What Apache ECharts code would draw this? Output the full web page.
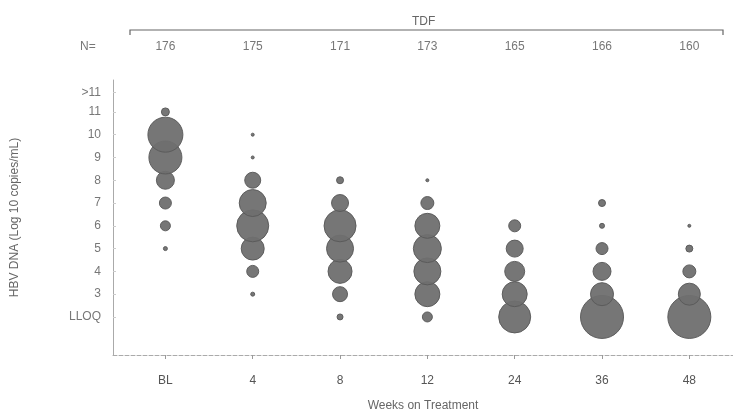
<!DOCTYPE html>
<html>
<head>
<meta charset="utf-8">
<script src="https://cdn.jsdelivr.net/npm/echarts@6/dist/echarts.min.js"></script>
<style>
html,body{margin:0;padding:0;background:#fff;}
#chart{width:733px;height:418px;}
</style>
</head>
<body>
<div id="chart"></div>
<script>
// Categories (weeks on treatment) and N per visit
const categories = ['BL', '4', '8', '12', '24', '36', '48'];
const nValues = ['176', '175', '171', '173', '165', '166', '160'];
// HBV DNA levels (log10 copies/mL); 2 = LLOQ, top label = >11
const levels = [2, 3, 4, 5, 6, 7, 8, 9, 10, 11];
const yTickValues = [2, 3, 4, 5, 6, 7, 8, 9, 10, 11, 11.85];
const yTickLabels = ['LLOQ', '3', '4', '5', '6', '7', '8', '9', '10', '11', '>11'];
// Bubble sizes (estimated diameter) per level, aligned with `levels`
const sizeBL  = [0, 0, 0, 4, 10, 12, 18, 33, 35, 8];
const sizeW4  = [0, 4, 12, 23, 32, 27, 16, 3, 3, 0];
const sizeW8  = [6, 15, 24, 27, 32, 17, 7, 0, 0, 0];
const sizeW12 = [10, 25, 27, 28, 25, 13, 3, 0, 0, 0];
const sizeW24 = [32, 25, 20, 17, 12, 0, 0, 0, 0, 0];
const sizeW36 = [43, 23, 18, 12, 5, 7, 0, 0, 0, 0];
const sizeW48 = [43, 22, 13, 7, 3, 0, 0, 0, 0, 0];
const allSizes = [sizeBL, sizeW4, sizeW8, sizeW12, sizeW24, sizeW36, sizeW48];

const data = [];
allSizes.forEach((arr, ci) => {
  arr.forEach((s, li) => {
    if (s > 0) data.push([ci, levels[li], s]);
  });
});

function yLabel(v) {
  let best = 0;
  yTickValues.forEach((t, i) => { if (Math.abs(t - v) < Math.abs(yTickValues[best] - v)) best = i; });
  return yTickLabels[best];
}

const chart = echarts.init(document.getElementById('chart'));
chart.setOption({
  animation: false,
  backgroundColor: '#fff',
  grid: { left: 113, right: 0, top: 80, bottom: 63 },
  xAxis: [{
    type: 'value', min: -0.6, max: 6.5, position: 'bottom',
    axisLine: { onZero: false, lineStyle: { color: '#aaa', type: 'dashed', width: 1 } },
    axisTick: { customValues: [0,1,2,3,4,5,6], length: 4, lineStyle: { color: '#999' } },
    splitLine: { show: false },
    axisLabel: {
      customValues: [0,1,2,3,4,5,6],
      formatter: v => categories[Math.round(v)],
      color: '#555', fontSize: 12, margin: 20, fontFamily: 'Arial'
    },
    name: 'Weeks on Treatment', nameLocation: 'middle', nameGap: 45,
    nameTextStyle: { color: '#666', fontSize: 12, fontFamily: 'Arial' }
  }, {
    type: 'value', min: -0.6, max: 6.5, position: 'top',
    axisLine: { show: false }, axisTick: { show: false }, splitLine: { show: false },
    axisLabel: {
      customValues: [0,1,2,3,4,5,6],
      formatter: v => nValues[Math.round(v)],
      color: '#777', fontSize: 12, margin: 27, fontFamily: 'Arial'
    }
  }],
  yAxis: {
    type: 'value', min: 0.33, max: 12.4,
    axisLine: { show: true, onZero: false, lineStyle: { color: '#aaa', width: 1 } },
    axisTick: { show: true, customValues: yTickValues, length: 3, inside: true, lineStyle: { color: '#ccc' } },
    splitLine: { show: false },
    axisLabel: {
      customValues: yTickValues,
      formatter: v => yLabel(v),
      color: '#777', fontSize: 12, margin: 12, fontFamily: 'Arial'
    },
    name: 'HBV DNA (Log 10 copies/mL)', nameLocation: 'middle', nameGap: 92, nameRotate: 90,
    nameTextStyle: { color: '#666', fontSize: 12, fontFamily: 'Arial' }
  },
  graphic: [
    { type: 'polyline', shape: { points: [[130, 35], [130, 30], [723, 30], [723, 35]] },
      style: { stroke: '#666', lineWidth: 1.2, fill: null } },
    { type: 'text', left: 412, top: 16,
      style: { text: 'TDF', fill: '#666', font: '12px Arial' } },
    { type: 'text', left: 80, top: 41,
      style: { text: 'N=', fill: '#777', font: '12px Arial' } }
  ],
  series: [{
    type: 'scatter',
    xAxisIndex: 0,
    data: data,
    symbolSize: d => d[2],
    itemStyle: { color: '#6f6f6f', borderColor: '#5a5a5a', borderWidth: 1, opacity: 0.95 }
  }]
});
</script>
</body>
</html>
